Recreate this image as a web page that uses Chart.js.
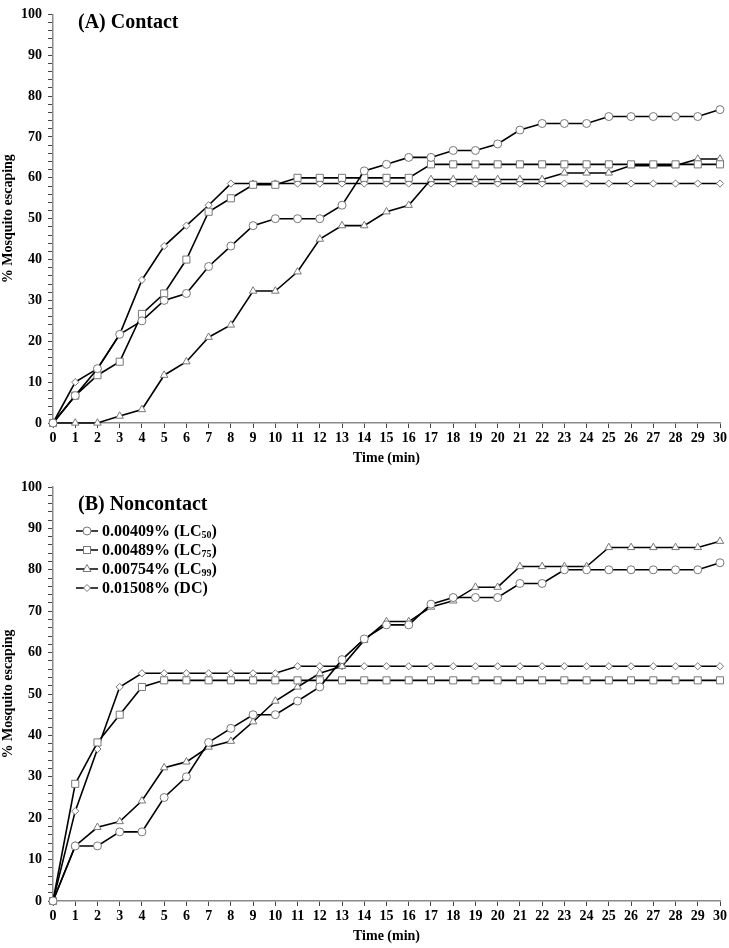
<!DOCTYPE html>
<html>
<head>
<meta charset="utf-8">
<script src="https://cdn.jsdelivr.net/npm/chart.js@4.4.1/dist/chart.umd.min.js"></script>
<style>
  html, body { margin: 0; padding: 0; background: #ffffff; }
  #wrap { position: relative; width: 729px; height: 948px; overflow: hidden; font-family: "Liberation Serif", "Times New Roman", serif; }
  canvas { position: absolute; left: 0; }
  .ptitle { position: absolute; font-weight: bold; font-size: 20px; line-height: 20px; color: #000; white-space: nowrap; }
  .leg { position: absolute; left: 76px; font-weight: bold; font-size: 16px; line-height: 19px; height: 19px; color: #000; white-space: nowrap; display: flex; align-items: center; }
  .leg svg { margin-right: 2px; }
  .leg sub { font-size: 10px; position: relative; top: 4px; vertical-align: baseline; line-height: 0; }
</style>
</head>
<body>
<div id="wrap">
  <canvas id="cA" width="729" height="470" style="top:0px"></canvas>
  <canvas id="cB" width="729" height="478" style="top:470px"></canvas>
  <div class="ptitle" style="left:78px; top:11px;">(A) Contact</div>
  <div class="ptitle" style="left:78px; top:493px;">(B) Noncontact</div>
  <div class="leg" style="top:521px;"><svg width="24" height="12"><line x1="0" y1="6" x2="22" y2="6" stroke="#000" stroke-width="1.5"/><circle cx="11" cy="6" r="4" fill="#fff" stroke="#777" stroke-width="1"/></svg>0.00409% (LC<sub>50</sub>)</div>
  <div class="leg" style="top:540px;"><svg width="24" height="12"><line x1="0" y1="6" x2="22" y2="6" stroke="#000" stroke-width="1.5"/><rect x="7.5" y="2.5" width="7" height="7" fill="#fff" stroke="#777" stroke-width="1"/></svg>0.00489% (LC<sub>75</sub>)</div>
  <div class="leg" style="top:559px;"><svg width="24" height="12"><line x1="0" y1="6" x2="22" y2="6" stroke="#000" stroke-width="1.5"/><polygon points="11,1.5 15,8.5 7,8.5" fill="#fff" stroke="#777" stroke-width="1"/></svg>0.00754% (LC<sub>99</sub>)</div>
  <div class="leg" style="top:578px;"><svg width="24" height="12"><line x1="0" y1="6" x2="22" y2="6" stroke="#000" stroke-width="1.5"/><polygon points="11,2.5 14.5,6 11,9.5 7.5,6" fill="#fff" stroke="#777" stroke-width="1"/></svg>0.01508% (DC)</div>
</div>
<script>
// ---- data ----
const minutes = [0,1,2,3,4,5,6,7,8,9,10,11,12,13,14,15,16,17,18,19,20,21,22,23,24,25,26,27,28,29,30];
const seriesLabels = ["0.00409% (LC50)", "0.00489% (LC75)", "0.00754% (LC99)", "0.01508% (DC)"];
const pointStyles = ["circle", "rect", "triangle", "rectRot"];

// (A) Contact
const contactLC50 = [0,6.7,13.3,21.7,25,30,31.7,38.3,43.3,48.3,50,50,50,53.3,61.7,63.3,65,65,66.7,66.7,68.3,71.7,73.3,73.3,73.3,75,75,75,75,75,76.7];
const contactLC75 = [0,6.7,11.7,15,26.7,31.7,40,51.7,55,58.3,58.3,60,60,60,60,60,60,63.3,63.3,63.3,63.3,63.3,63.3,63.3,63.3,63.3,63.3,63.3,63.3,63.3,63.3];
const contactLC99 = [0,0,0,1.7,3.3,11.7,15,21,24,32.3,32.3,37,45,48.3,48.3,51.7,53.3,59.6,59.6,59.6,59.6,59.6,59.6,61.2,61.2,61.2,63,63,63,64.6,64.6];
const contactDC   = [0,10,13.3,21.7,35,43.3,48.3,53.3,58.6,58.6,58.6,58.6,58.6,58.6,58.6,58.6,58.6,58.6,58.6,58.6,58.6,58.6,58.6,58.6,58.6,58.6,58.6,58.6,58.6,58.6,58.6];

// (B) Noncontact
const noncontactLC50 = [0,13.3,13.3,16.7,16.7,25,30,38.3,41.7,45,45,48.3,51.7,58.3,63.3,66.7,66.7,71.7,73.3,73.3,73.3,76.7,76.7,80,80,80,80,80,80,80,81.7];
const noncontactLC75 = [0,28.3,38.3,45,51.7,53.3,53.3,53.3,53.3,53.3,53.3,53.3,53.3,53.3,53.3,53.3,53.3,53.3,53.3,53.3,53.3,53.3,53.3,53.3,53.3,53.3,53.3,53.3,53.3,53.3,53.3];
const noncontactLC99 = [0,13.3,17.8,19.2,24.2,32.2,33.6,37.2,38.6,43.3,48.3,51.7,55,56.7,63,67.5,67.5,71,72.5,75.8,75.8,80.8,80.8,80.8,80.8,85.4,85.4,85.4,85.4,85.4,86.9];
const noncontactDC   = [0,21.7,36.7,51.7,55,55,55,55,55,55,55,56.7,56.7,56.7,56.7,56.7,56.7,56.7,56.7,56.7,56.7,56.7,56.7,56.7,56.7,56.7,56.7,56.7,56.7,56.7,56.7];

const xTickValues = minutes;
const yTickStep = 2;

// ---- chart building ----
const FONT = "'Liberation Serif', 'Times New Roman', serif";
const radii = [4, 5, 4.3, 3.6];

function makeDatasets(seriesList) {
  return seriesList.map((vals, i) => ({
    label: seriesLabels[i],
    data: minutes.map((m, k) => ({ x: m, y: vals[k] })),
    borderColor: "#000",
    borderWidth: 1.6,
    pointStyle: pointStyles[i],
    pointRadius: radii[i],
    pointBackgroundColor: "#fff",
    pointBorderColor: "#777",
    pointBorderWidth: 1,
    tension: 0,
    clip: false,
    fill: false
  }));
}

function makeChart(id, seriesList, padTop) {
  return new Chart(document.getElementById(id), {
    type: "line",
    data: { datasets: makeDatasets(seriesList) },
    options: {
      responsive: false,
      animation: false,
      devicePixelRatio: 1,
      layout: { padding: { top: padTop, right: 9, left: 0, bottom: 0 } },
      plugins: { legend: { display: false }, tooltip: { enabled: false }, title: { display: false } },
      scales: {
        x: {
          type: "linear",
          min: 0, max: 30,
          afterFit: s => { s.height = 47; },
          afterBuildTicks: s => { s.ticks = xTickValues.map(v => ({ value: v })); },
          ticks: { autoSkip: false, maxRotation: 0, padding: 2, color: "#000", font: { family: FONT, size: 14, weight: "bold" } },
          grid: { drawOnChartArea: false, drawTicks: true, tickLength: 5, tickColor: "#444", tickWidth: 1 },
          border: { display: true, color: "#8a8a8a", width: 1.5 },
          title: { display: true, text: "Time (min)", color: "#000", padding: { top: 0, bottom: 3 }, font: { family: FONT, size: 14, weight: "bold" } }
        },
        y: {
          min: 0, max: 100,
          afterFit: s => { s.width = 53; },
          ticks: {
            stepSize: yTickStep, autoSkip: false, padding: 6, color: "#000",
            font: { family: FONT, size: 14, weight: "bold" },
            callback: v => (v % 10 === 0 ? String(v) : "")
          },
          grid: { drawOnChartArea: false, drawTicks: true, tickLength: 5, tickColor: "#444", tickWidth: 1 },
          border: { display: true, color: "#8a8a8a", width: 1.5 },
          title: { display: true, text: "% Mosquito escaping", color: "#000", padding: { top: 0, bottom: 0 }, font: { family: FONT, size: 14, weight: "bold" } }
        }
      }
    }
  });
}

makeChart("cA", [contactLC50, contactLC75, contactLC99, contactDC], 8);
makeChart("cB", [noncontactLC50, noncontactLC75, noncontactLC99, noncontactDC], 17);
</script>
</body>
</html>
